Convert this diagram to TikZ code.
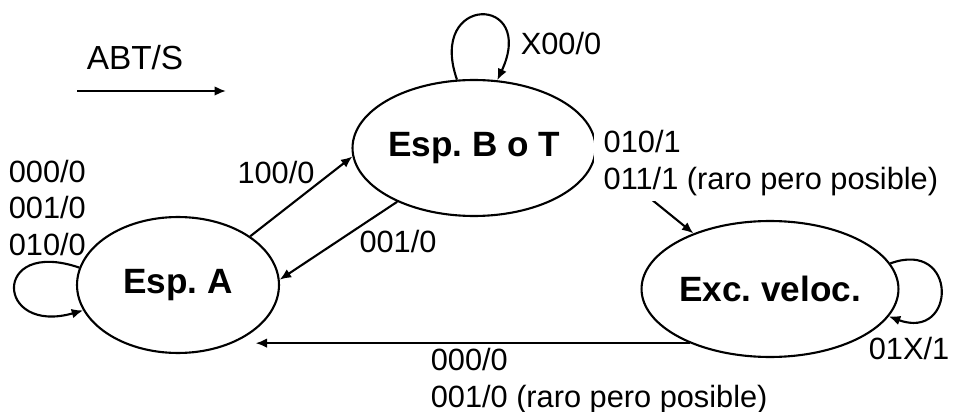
\documentclass[tikz,border=0pt]{standalone}
\usepackage{fontspec}
\setmainfont{Liberation Sans}
\usetikzlibrary{arrows.meta}
\usetikzlibrary{shapes.geometric}
\frenchspacing

\begin{document}
\begin{tikzpicture}[x=0.02cm,y=0.02cm,line width=1.2pt,>={Latex[length=6.5pt,width=5.5pt]},
    state/.style={ellipse,draw,minimum width=4.04cm,minimum height=2.72cm,inner sep=0pt,font=\fontsize{20}{23}\selectfont\bfseries},
    lbl/.style={font=\fontsize{17.5}{20.7}\selectfont,align=left,inner sep=1pt}]
    \useasboundingbox (0,0) rectangle (954,-412);

    \node[state] (espb) at (474,-148) {Esp. B o T};
    \node[state] (espa) at (178,-285) {Esp. A};
    \node[state] (exc) at (770,-289) {Exc. veloc.};

    \node[lbl,font=\fontsize{19}{22}\selectfont] (abts) at (135,-58) {ABT/S};
    \coordinate (kin) at (77,-91);
    \coordinate (kout) at (226,-91);
    \draw[->] (kin) -- (kout);

    \draw[->] (espa.170) .. controls +(-88,30) and +(-88,-25) .. (espa.195);
    \draw[->] (espb.104) .. controls +(-30,86) and +(40,86) .. (espb.71);
    \draw[->] (exc.12) .. controls +(68,25) and +(68,-25) .. (exc.347);
    \draw[->] (espa.34) -- (espb.184);
    \draw[->] (espb.215) -- (espa.3);
    \draw[->] (espb.357) -- (exc.144);
    \draw[->] (exc.214) -- (exc.214 -| espa.330);

    \node[lbl,anchor=west] (lblaa) at (6,-208) {000/0\\001/0\\010/0};
    \node[lbl] (lblab) at (276,-173) {100/0};
    \node[lbl] (lblba) at (398,-242) {001/0};
    \node[lbl,anchor=west] (lblbb) at (518,-44) {X00/0};
    \node[lbl,anchor=west,fill=white,inner xsep=5.5pt,inner ysep=3pt] (lblbe) at (593,-163) {010/1\\011/1 (raro pero posible)};
    \node[lbl,anchor=east] (lblee) at (952,-349) {01X/1};
    \node[lbl,anchor=west] (lblea) at (428,-381) {000/0\\001/0 (raro pero posible)};
\end{tikzpicture}
\end{document}
